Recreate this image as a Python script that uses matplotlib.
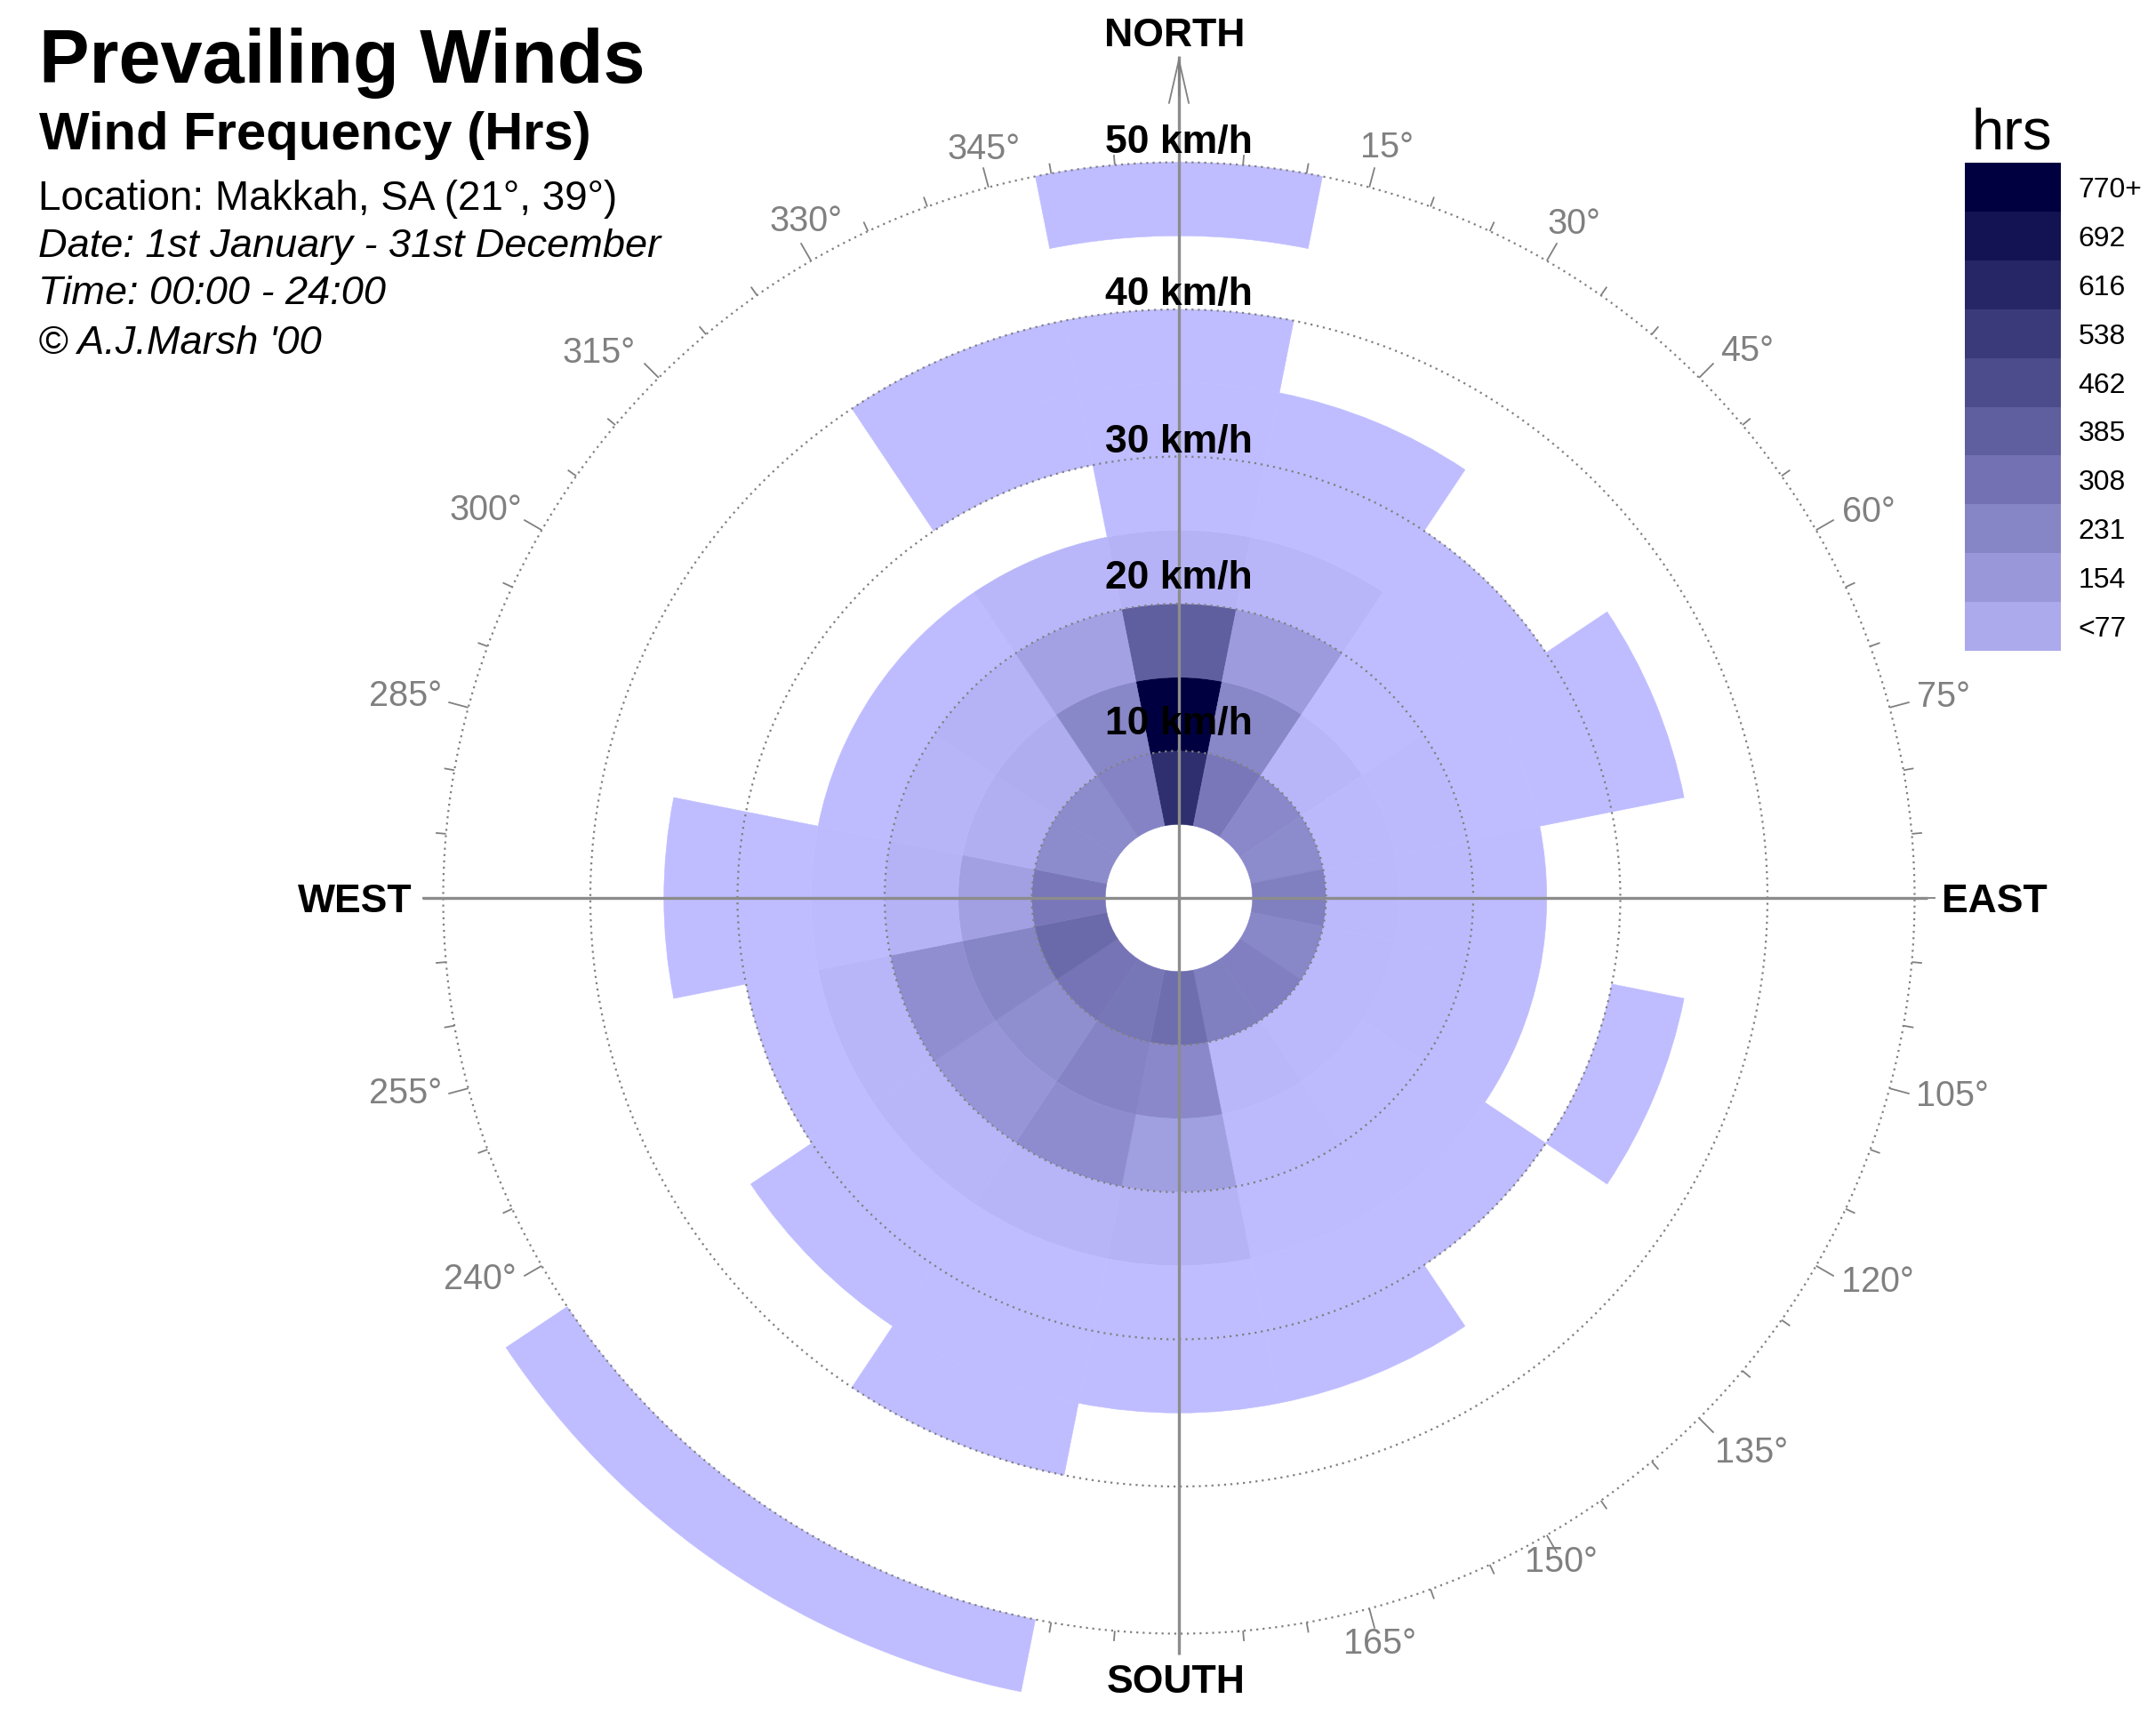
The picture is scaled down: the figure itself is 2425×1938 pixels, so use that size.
import matplotlib
matplotlib.use('Agg')
import matplotlib.pyplot as plt
import numpy as np
from matplotlib.colors import LinearSegmentedColormap, Normalize

plt.rcParams['font.family'] = ['Liberation Sans', 'DejaVu Sans']

# Wind hours per direction, one list per speed band (0 = no wind, left white).
# Order of each list: N, NNE, NE, ENE, E, ESE, SE, SSE, S, SSW, SW, WSW, W, WNW, NW, NNW
directions = [0, 22.5, 45, 67.5, 90, 112.5, 135, 157.5, 180, 202.5, 225, 247.5, 270, 292.5, 315, 337.5]
band_05_10 = [580, 285, 215, 205, 255, 220, 250, 255, 325, 290, 295, 340, 285, 205, 205, 235]
band_10_15 = [770, 220, 30, 20, 20, 20, 20, 25, 215, 235, 195, 230, 120, 60, 65, 220]
band_15_20 = [385, 140, 5, 15, 15, 15, 10, 15, 125, 200, 165, 190, 40, 35, 45, 115]
band_20_25 = [40, 30, 3, 3, 5, 5, 5, 5, 40, 35, 30, 30, 10, 5, 8, 25]
band_25_30 = [5, 3, 3, 3, 0, 0, 3, 3, 3, 3, 3, 3, 3, 0, 0, 0]
band_30_35 = [3, 3, 0, 3, 0, 3, 0, 3, 3, 3, 3, 0, 3, 0, 0, 3]
band_35_40 = [3, 0, 0, 0, 0, 0, 0, 0, 0, 3, 0, 0, 0, 0, 0, 3]
band_40_45 = [0, 0, 0, 0, 0, 0, 0, 0, 0, 0, 0, 0, 0, 0, 0, 0]
band_45_50 = [3, 0, 0, 0, 0, 0, 0, 0, 0, 0, 0, 0, 0, 0, 0, 0]
band_50_55 = [0, 0, 0, 0, 0, 0, 0, 0, 0, 3, 3, 0, 0, 0, 0, 0]
bands = [band_05_10, band_10_15, band_15_20, band_20_25, band_25_30,
         band_30_35, band_35_40, band_40_45, band_45_50, band_50_55]
band_starts = [5, 10, 15, 20, 25, 30, 35, 40, 45, 50]

ring_speeds = [10, 20, 30, 40, 50]
degree_labels = [15, 30, 45, 60, 75, 105, 120, 135, 150, 165,
                 240, 255, 285, 300, 315, 330, 345]
legend_values = [77, 154, 231, 308, 385, 462, 538, 616, 692, 770]
legend_labels = ['<77', '154', '231', '308', '385', '462', '538', '616', '692', '770+']

W, H = 2425, 1938
CX, CY = 1326, 1010
PX_PER_KMH = 16.55
RMAX = 56
GREY = '#808080'

# Label placement, not data: speed label offset above each ring, and
# where each degree label centre sits (angle, radius in km/h)
ring_label_offset = [1.8, 1.7, 0.95, 1.0, 1.3]
degree_label_angle = [15.5, 30.4, 46.1, 60.8, 75.3, 104.4, 118.8, 134.1, 150.1, 164.9,
                      241.4, 255.8, 284.6, 299.2, 313.2, 331.1, 345.4]
degree_label_radius = [52.9, 53.1, 53.6, 53.7, 53.7, 54.3, 54.2, 54.2, 52.1, 52.5,
                       54.1, 54.2, 54.3, 54.0, 54.1, 52.5, 52.6]

cmap = LinearSegmentedColormap.from_list('winds', ['#bfbdff', '#000040'])
norm = Normalize(0, 770)


def put_text(x, y, s, **kw):
    # x, y in pixels from the top left of the figure
    return fig.text(x / W, 1 - y / H, s, va='center', **kw)


fig = plt.figure(figsize=(W / 100, H / 100), dpi=100, facecolor='white')

# Polar axes placed so that the centre and radial scale match the chart
side = 2 * RMAX * PX_PER_KMH
ax = fig.add_axes([(CX - side / 2) / W, (H - CY - side / 2) / H, side / W, side / H],
                  projection='polar')
ax.set_theta_zero_location('N')
ax.set_theta_direction(-1)
ax.set_rlim(0, RMAX)
ax.spines['polar'].set_visible(False)
ax.patch.set_visible(False)
ax.set_xticks([])
ax.set_yticks(ring_speeds)
ax.set_yticklabels([])
ax.tick_params(axis='y', length=0)
ax.set_axisbelow(False)
ax.grid(False, axis='x')
ax.grid(True, axis='y', color=GREY, linestyle=(0, (1, 2.2)), linewidth=1.6)

# Degree ticks on the 50 km/h ring, under the sectors
tick_angles = np.radians(np.arange(0, 360, 5))
tick_long = (np.arange(0, 360, 5) % 15) == 0
ax.vlines(tick_angles[tick_long], 50, 51.4, color=GREY, linewidth=1.3, zorder=0.5)
ax.vlines(tick_angles[~tick_long], 50, 50.7, color=GREY, linewidth=1.3, zorder=0.5)

# Sectors
for start, hours in zip(band_starts, bands):
    for direction, value in zip(directions, hours):
        if value > 0:
            ax.bar(np.radians(direction), 5, width=np.radians(22.5), bottom=start,
                   color=cmap(norm(value)), edgecolor=cmap(norm(value)), linewidth=0.4, zorder=1)

# Compass cross
ax.vlines(np.radians([0, 90, 180, 270]), 0, [57.2, 50.9, 51.4, 51.4], color='#8c8c8c',
          linewidth=2.4, zorder=3, clip_on=False)
ax.annotate('', xy=(0, 57.2), xytext=(0, 54.5), zorder=3, annotation_clip=False,
            arrowprops=dict(arrowstyle='->,head_length=35,head_width=8', mutation_scale=1,
                            color=GREY, linewidth=1.3, shrinkA=0, shrinkB=0))

# Speed labels just above their rings
for speed, offset in zip(ring_speeds, ring_label_offset):
    ax.text(0, speed + offset, '%d km/h' % speed, ha='center', va='center',
            fontsize=32, fontweight='bold', color='black', zorder=4)

# Degree labels
for deg, angle, r in zip(degree_labels, degree_label_angle, degree_label_radius):
    ax.text(np.radians(angle), r, '%d°' % deg, ha='center', va='center',
            fontsize=28.5, color=GREY, zorder=4)

# Compass names
put_text(1321, 41, 'NORTH', ha='center', fontsize=32, fontweight='bold')
put_text(1323, 1893, 'SOUTH', ha='center', fontsize=32, fontweight='bold')
put_text(399, 1015, 'WEST', ha='center', fontsize=32, fontweight='bold')
put_text(2243, 1015, 'EAST', ha='center', fontsize=32, fontweight='bold')

# Title block
put_text(44, 71, 'Prevailing Winds', ha='left', fontsize=61, fontweight='bold')
put_text(44, 153, 'Wind Frequency (Hrs)', ha='left', fontsize=43, fontweight='bold')
put_text(43, 224, 'Location: Makkah, SA (21°, 39°)', ha='left', fontsize=33)
put_text(43, 277, 'Date: 1st January - 31st December', ha='left', fontsize=32.5, style='italic')
put_text(43, 331, 'Time: 00:00 - 24:00', ha='left', fontsize=32.5, style='italic')
put_text(43, 386, '© A.J.Marsh \'00', ha='left', fontsize=32.5, style='italic')

# Legend
ax_bar = fig.add_axes([2210 / W, (H - 732) / H, 108 / W, 549 / H])
ax_bar.pcolormesh([0, 1], np.arange(len(legend_values) + 1),
                  np.array(legend_values).reshape(-1, 1), cmap=cmap, norm=norm)
ax_bar.set_xticks([])
ax_bar.yaxis.tick_right()
ax_bar.set_yticks(np.arange(len(legend_values)) + 0.5)
ax_bar.set_yticklabels(legend_labels, fontsize=23)
ax_bar.tick_params(axis='y', length=0, pad=14)
for spine in ax_bar.spines.values():
    spine.set_visible(False)
put_text(2263, 151, 'hrs', ha='center', fontsize=47)

plt.savefig('out.png', dpi=100)
